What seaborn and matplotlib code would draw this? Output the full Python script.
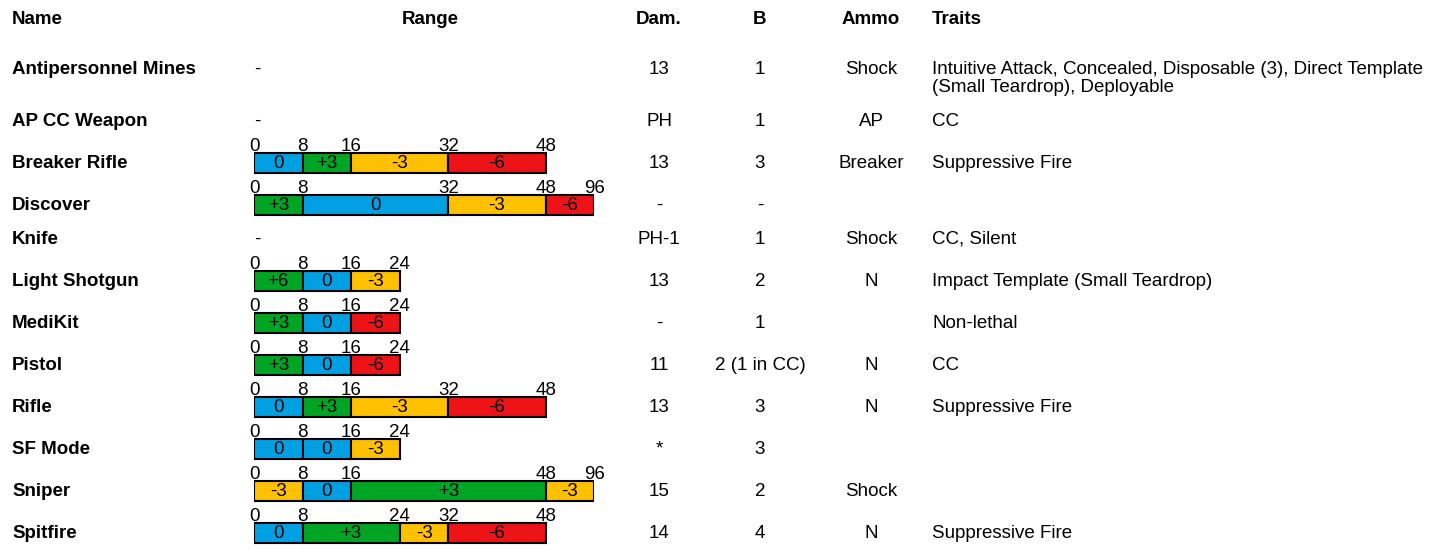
import numpy as np
import matplotlib
matplotlib.use("Agg")
import matplotlib.pyplot as plt
import seaborn as sns

# table data
names = ["Antipersonnel Mines", "AP CC Weapon", "Breaker Rifle", "Discover", "Knife",
         "Light Shotgun", "MediKit", "Pistol", "Rifle", "SF Mode", "Sniper", "Spitfire"]
range_bands = [None, None, [0, 8, 16, 32, 48], [0, 8, 32, 48, 96], None,
               [0, 8, 16, 24], [0, 8, 16, 24], [0, 8, 16, 24], [0, 8, 16, 32, 48],
               [0, 8, 16, 24], [0, 8, 16, 48, 96], [0, 8, 24, 32, 48]]
range_mods = [None, None, ["0", "+3", "-3", "-6"], ["+3", "0", "-3", "-6"], None,
              ["+6", "0", "-3"], ["+3", "0", "-6"], ["+3", "0", "-6"], ["0", "+3", "-3", "-6"],
              ["0", "0", "-3"], ["-3", "0", "+3", "-3"], ["0", "+3", "-3", "-6"]]
damage = ["13", "PH", "13", "-", "PH-1", "13", "-", "11", "13", "*", "15", "14"]
burst = ["1", "1", "3", "-", "1", "2", "1", "2 (1 in CC)", "3", "3", "2", "4"]
ammo = ["Shock", "AP", "Breaker", "", "Shock", "N", "", "N", "N", "", "Shock", "N"]
traits = ["Intuitive Attack, Concealed, Disposable (3), Direct Template\n(Small Teardrop), Deployable",
          "CC", "Suppressive Fire", "", "CC, Silent", "Impact Template (Small Teardrop)",
          "Non-lethal", "CC", "Suppressive Fire", "", "", "Suppressive Fire"]

mod_colors = {"+6": "#00a524", "+3": "#00a524", "0": "#00a0e3", "-3": "#ffc000", "-6": "#ee1316"}
band_edges = [0, 8, 16, 24, 32, 40, 48, 96]

sns.set_style("white")
plt.rcParams["font.family"] = ["Liberation Sans", "DejaVu Sans"]
plt.rcParams["text.color"] = "black"

W, H = 1448, 550
fig = plt.figure(figsize=(W / 100, H / 100), dpi=100)
ax = fig.add_axes([0, 0, 1, 1])
ax.set_xlim(0, W)
ax.set_ylim(H, 0)
ax.axis("off")

# row layout: bar rows and multi-line rows are taller
row_y = []
y = 69
for i, name in enumerate(names):
    if i > 0:
        extra = traits[i - 1].count("\n")
        y += 34 + (8 if range_bands[i] else 0) + 18 * extra
    row_y.append(y)

fs = 13.5
ax.text(12, 19, "Name", fontsize=fs, fontweight="bold", va="center", ha="left")
ax.text(430, 19, "Range", fontsize=fs, fontweight="bold", va="center", ha="center")
ax.text(659, 19, "Dam.", fontsize=fs, fontweight="bold", va="center", ha="center")
ax.text(760, 19, "B", fontsize=fs, fontweight="bold", va="center", ha="center")
ax.text(871, 19, "Ammo", fontsize=fs, fontweight="bold", va="center", ha="center")
ax.text(932, 19, "Traits", fontsize=fs, fontweight="bold", va="center", ha="left")

for i, yy in enumerate(row_y):
    ax.text(12, yy, names[i], fontsize=fs, fontweight="bold", va="center")
    ax.text(659, yy, damage[i], fontsize=fs, va="center", ha="center")
    ax.text(760, yy, burst[i], fontsize=fs, va="center", ha="center")
    ax.text(871, yy, ammo[i], fontsize=fs, va="center", ha="center")
    ax.text(932, yy + 9.5 * traits[i].count("\n"), traits[i], fontsize=fs, va="center",
            ha="left", linespacing=1.03)
    if range_bands[i] is None:
        ax.text(254, yy, "-", fontsize=fs, va="center", ha="left")

# range column: one slot per 8" band, 48-96 squeezed into one slot
x0, slot = 254, 48.6
rax = fig.add_axes([x0 / W, 0, slot * 7 / W, 1])
idx = np.arange(len(band_edges))
rax.set_xscale("function", functions=(lambda v: np.interp(v, band_edges, idx),
                                      lambda p: np.interp(p, idx, band_edges)))
rax.set_xlim(0, 96)
rax.set_ylim(H, 0)
rax.axis("off")

for i, yy in enumerate(row_y):
    bands = range_bands[i]
    if bands is None:
        continue
    starts = np.array(bands[:-1])
    widths = np.diff(bands)
    cols = [mod_colors[m] for m in range_mods[i]]
    rax.barh([yy] * len(widths), widths, left=starts, height=20, color=cols,
             edgecolor="black", linewidth=1.5)
    for s, w, m in zip(starts, widths, range_mods[i]):
        mid = np.interp((np.interp(s, band_edges, idx) + np.interp(s + w, band_edges, idx)) / 2,
                        idx, band_edges)
        rax.text(mid, yy + 1, m, fontsize=fs, ha="center", va="center")
    for b in bands:
        rax.text(b, yy - 16.5, str(b), fontsize=fs, ha="center", va="center", clip_on=False)

fig.savefig("out.png", dpi=100)
